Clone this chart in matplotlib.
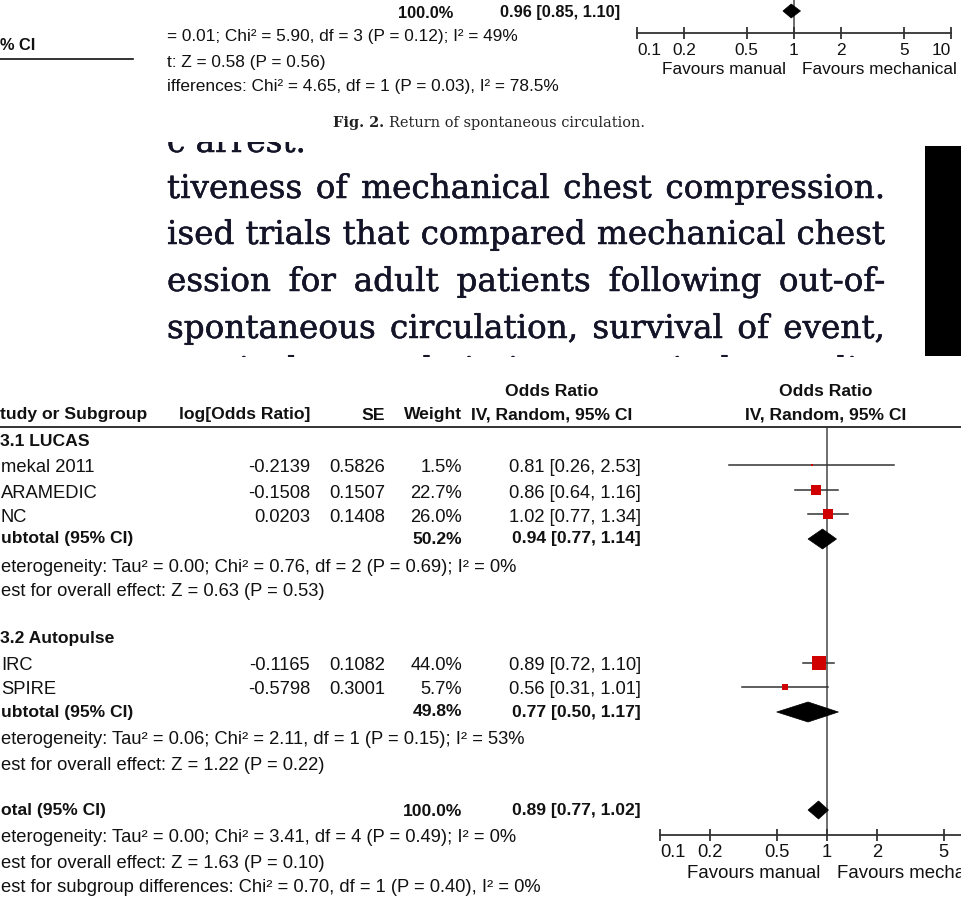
import matplotlib.pyplot as plt
import matplotlib.patheffects as pe
from matplotlib.patches import Polygon, Rectangle
from matplotlib.transforms import Bbox

W, H = 961, 908
SANS = ['Liberation Sans', 'DejaVu Sans']
SERIF = ['DejaVu Serif', 'Liberation Serif']
INK = '#111111'
RED = '#d10000'
TICKS = [0.1, 0.2, 0.5, 1, 2, 5, 10]
TICK_LABELS = ['0.1', '0.2', '0.5', '1', '2', '5', '10']

# tail of the previous forest plot (overall row only)
top_weight = '100.0%'
top_or, top_lo, top_hi = 0.96, 0.85, 1.10
top_notes = [
    '= 0.01; Chi² = 5.90, df = 3 (P = 0.12); I² = 49%',
    't: Z = 0.58 (P = 0.56)',
    'ifferences: Chi² = 4.65, df = 1 (P = 0.03), I² = 78.5%',
]

caption_bold = 'Fig. 2.'
caption_rest = 'Return of spontaneous circulation.'

body_lines = [
    'c arrest.',
    'tiveness of mechanical chest compression.',
    'ised trials that compared mechanical chest',
    'ession for adult patients following out-of-',
    'spontaneous circulation, survival of event,',
    'survival to admission, survival to dis-',
]

# main forest plot
groups = ['3.1 LUCAS', '3.2 Autopulse']
studies = ['mekal 2011', 'ARAMEDIC', 'NC', 'IRC', 'SPIRE']
log_or = [-0.2139, -0.1508, 0.0203, -0.1165, -0.5798]
se = [0.5826, 0.1507, 0.1408, 0.1082, 0.3001]
weight = [1.5, 22.7, 26.0, 44.0, 5.7]
odds = [0.81, 0.86, 1.02, 0.89, 0.56]
ci_lo = [0.26, 0.64, 0.77, 0.72, 0.31]
ci_hi = [2.53, 1.16, 1.34, 1.10, 1.01]

sub_weight = [50.2, 49.8]
sub_or = [0.94, 0.77]
sub_lo = [0.77, 0.50]
sub_hi = [1.14, 1.17]
sub_het = [
    'eterogeneity: Tau² = 0.00; Chi² = 0.76, df = 2 (P = 0.69); I² = 0%',
    'eterogeneity: Tau² = 0.06; Chi² = 2.11, df = 1 (P = 0.15); I² = 53%',
]
sub_test = ['est for overall effect: Z = 0.63 (P = 0.53)',
            'est for overall effect: Z = 1.22 (P = 0.22)']

tot_weight = 100.0
tot_or, tot_lo, tot_hi = 0.89, 0.77, 1.02
tot_notes = [
    'eterogeneity: Tau² = 0.00; Chi² = 3.41, df = 4 (P = 0.49); I² = 0%',
    'est for overall effect: Z = 1.63 (P = 0.10)',
    'est for subgroup differences: Chi² = 0.70, df = 1 (P = 0.40), I² = 0%',
]

# row layout (pixel rows)
group_y = [441, 638]
study_y = [468, 493, 517, 666, 690]
sub_y = [539, 712]
sub_het_y = [568, 740]
sub_test_y = [592, 765]
tot_y = 811
tot_notes_y = [838, 863, 887]
body_base = [152, 198, 244, 291, 338, 380]

fig = plt.figure(figsize=(W / 100, H / 100), dpi=100)
canvas = fig.add_axes([0, 0, 1, 1])
canvas.set_xlim(0, W)
canvas.set_ylim(H, 0)
canvas.axis('off')
renderer = fig.canvas.get_renderer()

FS_B, FS_R = 12.6, 13.2          # table: bold / regular
FS_TOP_B, FS_TOP_R = 11.8, 12.4  # upper fragment
tkw = dict(family=SANS, color=INK, va='center')


def txt(x, y, s, size=FS_R, bold=False, ha='left', **kw):
    return canvas.text(x, y, s, fontsize=size, ha=ha,
                       fontweight='bold' if bold else 'normal', **tkw, **kw)


def width_of(s, **kw):
    t = canvas.text(0, 0, s, **kw)
    w = t.get_window_extent(renderer).width
    t.remove()
    return w


def fit_size(s, target, **kw):
    return 10 * target / width_of(s, fontsize=10, **kw)


def set_line(s, x0, x1, y, clip, justify=True, **kw):
    words = s.split()
    widths = [width_of(w, **kw) for w in words]
    space = width_of('a a', **kw) - width_of('aa', **kw)
    gap = (x1 - x0 - sum(widths)) / max(len(words) - 1, 1)
    if not justify or gap < space * 0.8:
        gap = space
    x = x0
    for w, wd in zip(words, widths):
        t = canvas.text(x, y, w, va='baseline', ha='left', clip_on=True, **kw)
        t.set_clip_box(clip)
        x += wd + gap


def forest_axes(x_lo, x_hi, y_top, y_bot, size, pad):
    ax = fig.add_axes([x_lo / W, 1 - y_bot / H, (x_hi - x_lo) / W, (y_bot - y_top) / H])
    ax.set_xscale('log')
    ax.set_xlim(0.1, 10)
    ax.set_ylim(y_bot, y_top)
    ax.patch.set_alpha(0)
    for side in ('left', 'right', 'top'):
        ax.spines[side].set_visible(False)
    ax.spines['bottom'].set_color('#333333')
    ax.spines['bottom'].set_linewidth(1.3)
    ax.set_yticks([])
    ax.set_xticks(TICKS, TICK_LABELS)
    ax.minorticks_off()
    ax.tick_params(axis='x', direction='inout', length=9, width=1.3,
                   color='#333333', pad=pad, labelsize=size, labelcolor=INK)
    for lab in ax.get_xticklabels():
        lab.set_family(SANS)
    ax.get_xticklabels()[0].set_ha('left')
    ax.get_xticklabels()[-1].set_ha('right')
    ax.axvline(1, color='#555555', lw=1.2, zorder=1)
    return ax


def diamond(ax, est, lo, hi, y, half):
    ax.add_patch(Polygon([(lo, y), (est, y - half), (hi, y), (est, y + half)],
                         closed=True, fc='black', ec='black', lw=0.5, zorder=3))


# --- upper fragment ---
txt(453, 13, top_weight, FS_TOP_B, True, 'right')
txt(620, 13, f'{top_or:.2f} [{top_lo:.2f}, {top_hi:.2f}]', FS_TOP_B, True, 'right')
for y, s in zip([37, 62, 86], top_notes):
    txt(167, y, s, FS_TOP_R)
txt(0, 45, '% CI', FS_TOP_B, True)
canvas.plot([0, 133], [59, 59], color=INK, lw=1.2)

ax_top = forest_axes(637, 951, -20, 33, FS_TOP_R, 3)
diamond(ax_top, top_or, top_lo, top_hi, 11, 7)
txt(786, 70, 'Favours manual', FS_TOP_R, ha='right')
txt(802, 70, 'Favours mechanical', FS_TOP_R)

# caption
cap_kw = dict(family=SERIF, color='#222222', va='center')
cap_size = fit_size(caption_bold + ' ' + caption_rest, 307, **cap_kw)
bw = width_of(caption_bold + ' ', fontsize=cap_size, fontweight='bold', **cap_kw)
canvas.text(333, 123, caption_bold, fontsize=cap_size, fontweight='bold', **cap_kw)
canvas.text(333 + bw, 123, caption_rest, fontsize=cap_size, **cap_kw)

# --- body text column (justified, cropped top and bottom) ---
body_kw = dict(family=SERIF, color='#141428',
               path_effects=[pe.withStroke(linewidth=0.35, foreground='#141428')])
body_kw['fontsize'] = min(fit_size(s, 718, family=SERIF) for s in body_lines[1:5])
clip = Bbox.from_extents(160, H - 357, 925, H - 142)
for i, (line, base) in enumerate(zip(body_lines, body_base)):
    set_line(line, 167, 885, base, clip, justify=(i > 0), **body_kw)
canvas.add_patch(Rectangle((925, 146), W - 925, 356 - 146, fc='black', ec='none'))

# --- main table ---
txt(552, 391, 'Odds Ratio', FS_B, True, 'center')
txt(826, 391, 'Odds Ratio', FS_B, True, 'center')
txt(0, 415, 'tudy or Subgroup', FS_B, True)
txt(310, 415, 'log[Odds Ratio]', FS_B, True, 'right')
txt(385, 415, 'SE', FS_B, True, 'right')
txt(462, 415, 'Weight', FS_B, True, 'right')
txt(552, 415, 'IV, Random, 95% CI', FS_B, True, 'center')
txt(826, 415, 'IV, Random, 95% CI', FS_B, True, 'center')
canvas.plot([0, W], [427, 427], color=INK, lw=1.2)

for g, y in zip(groups, group_y):
    txt(0, y, g, FS_B, True)
for i, name in enumerate(studies):
    y = study_y[i]
    txt(1, y, name)
    txt(310, y, f'{log_or[i]:.4f}', ha='right')
    txt(385, y, f'{se[i]:.4f}', ha='right')
    txt(462, y, f'{weight[i]:.1f}%', ha='right')
    txt(641, y, f'{odds[i]:.2f} [{ci_lo[i]:.2f}, {ci_hi[i]:.2f}]', ha='right')
for k in range(2):
    txt(1, sub_y[k], 'ubtotal (95% CI)', FS_B, True)
    txt(462, sub_y[k], f'{sub_weight[k]:.1f}%', FS_B, True, 'right')
    txt(641, sub_y[k], f'{sub_or[k]:.2f} [{sub_lo[k]:.2f}, {sub_hi[k]:.2f}]', FS_B, True, 'right')
    txt(1, sub_het_y[k], sub_het[k])
    txt(1, sub_test_y[k], sub_test[k])
txt(1, tot_y, 'otal (95% CI)', FS_B, True)
txt(462, tot_y, f'{tot_weight:.1f}%', FS_B, True, 'right')
txt(641, tot_y, f'{tot_or:.2f} [{tot_lo:.2f}, {tot_hi:.2f}]', FS_B, True, 'right')
for y, s in zip(tot_notes_y, tot_notes):
    txt(1, y, s)

ax = forest_axes(660, 994, 428, 835, FS_R, 2)
for i in range(len(studies)):
    y = study_y[i] - 3
    ax.plot([ci_lo[i], ci_hi[i]], [y, y], color='#333333', lw=1.1, zorder=2)
    side = 2.1 * weight[i] ** 0.5 * 0.72
    ax.scatter([odds[i]], [y], marker='s', s=side ** 2, color=RED, lw=0, zorder=3)
for k in range(2):
    diamond(ax, sub_or[k], sub_lo[k], sub_hi[k], sub_y[k], 10)
diamond(ax, tot_or, tot_lo, tot_hi, tot_y - 1, 9)
txt(820, 873, 'Favours manual', 13.4, ha='right')
txt(837, 873, 'Favours mechanical', 13.4)

fig.savefig('out.png', dpi=100)
